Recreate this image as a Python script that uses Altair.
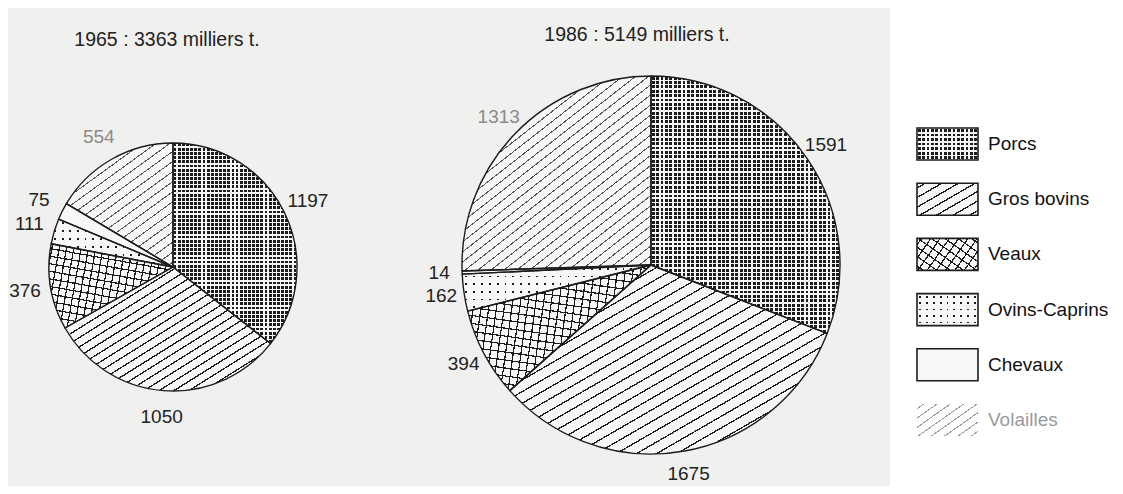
import math
import altair as alt
import pandas as pd

# ---------------- data ----------------
categories = ["Porcs", "Gros bovins", "Veaux", "Ovins-Caprins", "Chevaux", "Volailles"]
values_1965 = [1197, 1050, 376, 111, 75, 554]
values_1986 = [1591, 1675, 394, 162, 14, 1313]
title_1965 = "1965 : 3363 milliers t."
title_1986 = "1986 : 5149 milliers t."

# ---------------- styles ----------------
FONT = "Liberation Sans"
INK = "#1c1c1c"
PAPER = "#f7f7f5"
BG = "#f0f0ee"
TRANSP = "rgba(0,0,0,0)"


def stripe_gradient(W, H, alpha_deg, spacing, lw, line_color, bg_color):
    """Linear gradient (bbox units) that draws parallel stripes at angle alpha."""
    a = math.radians(alpha_deg)
    nx, ny = math.sin(a), math.cos(a)
    proj = [(u * W * nx + v * H * ny, u, v) for u in (0, 1) for v in (0, 1)]
    pmin = min(proj)
    pmax = max(proj)
    D = max(pmax[0] - pmin[0], 1e-6)
    denom = nx * nx * W * W + ny * ny * H * H
    k = D / denom
    dx, dy = k * nx * W, k * ny * H
    x1, y1 = pmin[1], pmin[2]
    n = max(1, int(round(D / spacing)))
    hw = lw / (2 * D)
    stops = [{"offset": 0, "color": bg_color}]
    for i in range(n):
        c = (i + 0.5) / n
        a0 = round(max(0.0, c - hw), 5)
        a1 = round(min(1.0, c + hw), 5)
        stops += [
            {"offset": a0, "color": bg_color},
            {"offset": a0, "color": line_color},
            {"offset": a1, "color": line_color},
            {"offset": a1, "color": bg_color},
        ]
    stops.append({"offset": 1, "color": bg_color})
    return {"gradient": "linear", "x1": x1, "y1": y1, "x2": x1 + dx, "y2": y1 + dy, "stops": stops}


def pattern_fills(cat, W, H, p):
    if cat == "Porcs":
        return [INK,
                stripe_gradient(W, H, 0, p["dot"], p["dotgap"], TRANSP, PAPER),
                stripe_gradient(W, H, 90, p["dot"], p["dotgap"], TRANSP, PAPER)]
    if cat == "Gros bovins":
        return [PAPER, stripe_gradient(W, H, p["gb_a"], p["gb_s"], 1.3, INK, TRANSP)]
    if cat == "Veaux":
        return [PAPER,
                stripe_gradient(W, H, p["v_a"], p["v_s"], 1.2, INK, TRANSP),
                stripe_gradient(W, H, p["v_a"] - 90, p["v_s"], 1.2, INK, TRANSP)]
    if cat == "Ovins-Caprins":
        return [INK,
                stripe_gradient(W, H, 0, p["ov_s"], 1.8, TRANSP, PAPER),
                stripe_gradient(W, H, 90, p["ov_s"], 1.8, TRANSP, PAPER)]
    if cat == "Chevaux":
        return [PAPER]
    return [PAPER, stripe_gradient(W, H, p["vo_a"], p["vo_s"], 1.0, p["vo_c"], TRANSP)]


def slice_bbox(start_deg, end_deg, r):
    angs = [start_deg, end_deg] + [c for c in (0, 90, 180, 270, 360) if start_deg < c < end_deg]
    xs = [0.0] + [r * math.sin(math.radians(t)) for t in angs]
    ys = [0.0] + [-r * math.cos(math.radians(t)) for t in angs]
    return max(max(xs) - min(xs), 1.0), max(max(ys) - min(ys), 1.0)


def pie_layers(values, title, cx, cy, r, label_r, title_xy, p):
    df = pd.DataFrame({"cat": categories, "value": values, "order": list(range(len(categories)))})
    base = (
        alt.Chart(df)
        .transform_window(cum="sum(value)", sort=[alt.SortField("order")], frame=[None, 0])
        .transform_joinaggregate(total="sum(value)")
        .transform_calculate(
            start="(datum.cum - datum.value) / datum.total",
            end="datum.cum / datum.total",
            mid="(datum.cum - datum.value / 2) / datum.total",
        )
    )
    theta = alt.Theta("start:Q", scale=alt.Scale(domain=[0, 1]), stack=None)
    theta2 = alt.Theta2("end:Q")
    total = sum(values)
    layers = []
    cum = 0
    for cat, v in zip(categories, values):
        s_deg = cum / total * 360
        cum += v
        e_deg = cum / total * 360
        W, H = slice_bbox(s_deg, e_deg, r)
        for f in pattern_fills(cat, W, H, p):
            layers.append(
                base.transform_filter(alt.datum.cat == cat)
                .mark_arc(x=cx, y=cy, radius=r, fill=f, strokeWidth=0)
                .encode(theta=theta, theta2=theta2)
            )
    layers.append(
        base.mark_arc(x=cx, y=cy, radius=r, fill="white", fillOpacity=0,
                      stroke=INK, strokeWidth=1.4, strokeJoin="round")
        .encode(theta=theta, theta2=theta2)
    )
    layers.append(
        base.mark_text(x=cx, y=cy, radius=label_r, font=FONT, fontSize=19,
                       align="center", baseline="middle")
        .encode(
            theta=alt.Theta("mid:Q", scale=alt.Scale(domain=[0, 1]), stack=None),
            text="value:Q",
            color=alt.when(alt.datum.cat == "Volailles").then(alt.value("#8a8a8a")).otherwise(alt.value("#222222")),
        )
    )
    tdf = pd.DataFrame({"t": [title]})
    layers.append(
        alt.Chart(tdf).mark_text(x=title_xy[0], y=title_xy[1], font=FONT, fontSize=19.5,
                                 color="#222222", align="center", baseline="middle")
        .encode(text="t:N")
    )
    return layers


p1965 = dict(dot=4.2, dotgap=2.8, gb_a=32, gb_s=8.0, v_a=80, v_s=7.3, ov_s=7.5,
             vo_a=36, vo_s=8.0, vo_c="#555555")
p1986 = dict(dot=4.4, dotgap=2.9, gb_a=30, gb_s=10.0, v_a=82, v_s=7.8, ov_s=8.0,
             vo_a=38, vo_s=8.0, vo_c="#555555")

left_layers = (
    pie_layers(values_1965, title_1965, 165, 259, 124, 150, (159, 32), p1965)
    + pie_layers(values_1986, title_1986, 643, 257, 189, 212, (629, 27), p1986)
)
left = alt.layer(*left_layers).properties(
    width=882, height=478, view=alt.ViewBackground(fill=BG, strokeWidth=0)
)

# ---------------- legend ----------------
ldf = pd.DataFrame({"cat": categories})
yenc = alt.Y("cat:N", sort=categories, axis=None,
             scale=alt.Scale(domain=categories, range=[120, 428], paddingInner=0.42, paddingOuter=0))
BW, BH = 61, 32
p_leg = dict(dot=4.3, dotgap=2.7, gb_a=30, gb_s=8.0, v_a=55, v_s=8.0, ov_s=7.0,
             vo_a=35, vo_s=8.0, vo_c="#9a9a9a")
leg_layers = []
for cat in categories:
    for f in pattern_fills(cat, BW, BH, p_leg):
        if cat == "Volailles" and f == PAPER:
            f = "white"
        leg_layers.append(
            alt.Chart(ldf).transform_filter(alt.datum.cat == cat)
            .mark_rect(x=27, x2=27 + BW, fill=f, strokeWidth=0)
            .encode(y=yenc)
        )
leg_layers.append(
    alt.Chart(ldf).transform_filter(alt.datum.cat != "Volailles")
    .mark_rect(x=27, x2=27 + BW, fill="white", fillOpacity=0, stroke=INK, strokeWidth=1.6)
    .encode(y=yenc)
)
leg_layers.append(
    alt.Chart(ldf).mark_text(x=98, align="left", baseline="middle", font=FONT, fontSize=19)
    .encode(
        y=yenc,
        text="cat:N",
        color=alt.when(alt.datum.cat == "Volailles").then(alt.value("#9a9a9a")).otherwise(alt.value("#111111")),
    )
)
right = alt.layer(*leg_layers).properties(
    width=225, height=478, view=alt.ViewBackground(fill="white", strokeWidth=0)
)

chart = (
    alt.hconcat(left, right, spacing=0)
    .properties(padding=0, background="white")
    .configure_view(strokeWidth=0)
)

chart.save("out.html", embed_options={"renderer": "svg", "actions": False})
